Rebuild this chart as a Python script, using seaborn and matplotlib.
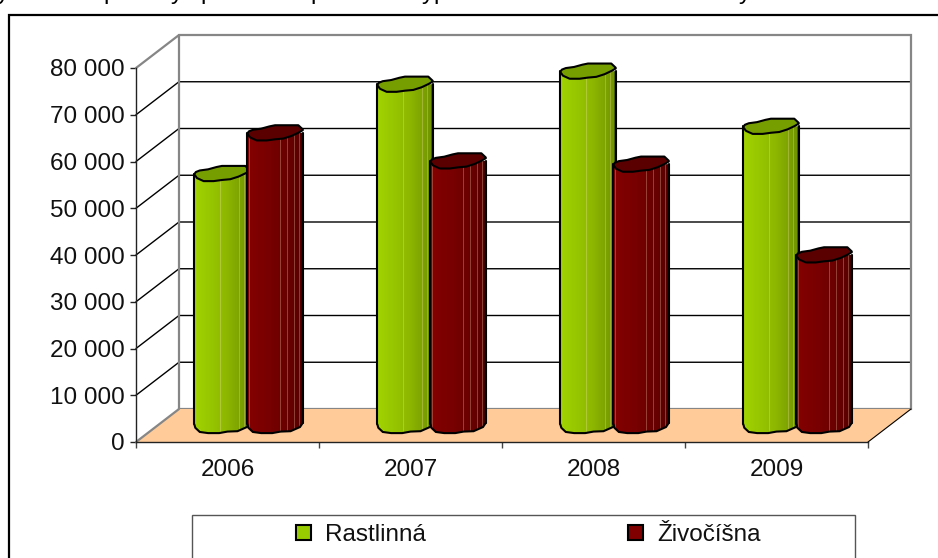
import numpy as np
import pandas as pd
import seaborn as sns
import matplotlib
matplotlib.use("Agg")
import matplotlib.pyplot as plt
from matplotlib.patches import Polygon, PathPatch, Rectangle
from matplotlib.path import Path
from matplotlib.lines import Line2D
from matplotlib.colors import to_rgb

years = ["2006", "2007", "2008", "2009"]
series_names = ["Rastlinná", "Živočíšna"]
rastlinna = [53900, 73000, 75800, 64000]
zivocisna = [62600, 56600, 55900, 36500]
y_ticks = [0, 10000, 20000, 30000, 40000, 50000, 60000, 70000, 80000]
y_labels = ["0", "10 000", "20 000", "30 000", "40 000", "50 000", "60 000", "70 000", "80 000"]
clipped_title_glyphs = [("y", 3), ("p", 110), ("y", 177), ("p", 207), ("p", 317), ("y", 428), ("p", 440), ("y", 745)]

sns.set_theme(style="white")
plt.rcParams["font.family"] = ["Liberation Sans", "DejaVu Sans"]
W, H = 938, 558
FS = 17.5
fig = plt.figure(figsize=(W / 100, H / 100), dpi=100, facecolor="white")
L, R, B, T = 136, 868, 442, 68
ax = fig.add_axes([L / W, 1 - B / H, (R - L) / W, (B - T) / H])

df = pd.DataFrame({
    "year": years * 2,
    "series": [series_names[0]] * 4 + [series_names[1]] * 4,
    "value": rastlinna + zivocisna,
})
sns.barplot(data=df, x="year", y="value", hue="series", hue_order=series_names,
            width=0.58, gap=0, legend=False, ax=ax, errorbar=None,
            palette=["#99CC00", "#800000"])
ax.set_xlim(-0.5, 3.5)
ax.set_ylim(0, 80000)
ax.set_xlabel("")
ax.set_ylabel("")

px_x = 4 / (R - L)
px_y = 80000 / (B - T)
DX, DY = 43 * px_x, 33 * px_y
x0, x1 = -0.5, 3.5

# walls and floor
ax.add_patch(Polygon([(x0 + DX, DY), (x1 + DX, DY), (x1 + DX, 80000 + DY), (x0 + DX, 80000 + DY)],
                     fc="white", ec="none", zorder=0, clip_on=False))
GRAY = "#868686"
for v in y_ticks[1:-1]:
    ax.plot([x0, x0 + DX, x1 + DX], [v, v + DY, v + DY], color="black", lw=1.0, zorder=1, clip_on=False)
ax.plot([x0, x0 + DX, x1 + DX, x1 + DX, x0 + DX, x0 + DX],
        [80000, 80000 + DY, 80000 + DY, DY, DY, 80000 + DY], color=GRAY, lw=1.6, zorder=1.5,
        clip_on=False, solid_joinstyle="miter")
ax.add_patch(Polygon([(x0, 0), (x1, 0), (x1 + DX, DY), (x0 + DX, DY)],
                     fc="#FFCC99", ec="none", zorder=2, clip_on=False))
ax.plot([x1, x1 + DX], [0, DY], color="black", lw=0.8, zorder=2.1, clip_on=False)
ax.plot([x0, x0 + DX], [0, DY], color=GRAY, lw=1.6, zorder=2.1, clip_on=False)

# cylinder outlines, normalised (u across, v in ellipse half-heights)
lid_upper = [(0, -0.1), (0.03, 0.2), (0.1, 0.4), (0.25, 0.55), (0.4, 0.85), (0.5, 1.0),
             (0.92, 1.0), (1, 0.45)]
lid_lower = [(1, 0.35), (0.93, 0.05), (0.8, -0.4), (0.65, -0.75), (0.5, -0.85), (0.35, -1.0),
             (0.17, -1.0), (0.05, -0.6)]
base_lower = [(0, 0.2), (0.02, -0.3), (0.1, -0.85), (0.25, -1.0), (0.45, -1.0), (0.6, -0.8),
              (0.78, -0.75), (0.95, -0.2), (1, 0.35)]
RY = 7.6 * px_y
BAR_PX = 55.5
stops = {
    0: [(0, "#A2D300"), (0.25, "#98C800"), (0.6, "#8DB600"), (0.85, "#7AA000"), (1, "#6E9000")],
    1: [(0, "#840000"), (0.4, "#780000"), (0.75, "#680000"), (1, "#560000")],
}
lines = {0: [0.49, 0.82, 0.92], 1: [0.05, 0.62, 0.74, 0.85, 0.95]}
lid_col = {0: "#779E00", 1: "#5A0000"}

for s, cont in enumerate(ax.containers):
    for j, bar in enumerate(cont):
        bar.set_facecolor("none")
        bar.set_edgecolor("none")
        bw = BAR_PX * px_x
        bx = bar.get_x() + bar.get_width() / 2 - bw / 2 + DX / 2 - 0.5 * px_x
        h = bar.get_height()
        base, top = DY / 2, DY / 2 + h
        z = 3 + j * 1.0 + s * 0.4
        body = [(bx, top)] + [(bx + u * bw, base + v * RY) for u, v in base_lower] + [(bx + bw, top)]
        body_closed = body + [body[0]]
        codes = [Path.MOVETO] + [Path.LINETO] * (len(body) - 1) + [Path.CLOSEPOLY]
        clip = PathPatch(Path(body_closed, codes), fc="none", ec="none", zorder=z, clip_on=False)
        ax.add_patch(clip)
        us = np.linspace(0, 1, 54)
        cols = np.array([to_rgb(c) for _, c in stops[s]])
        ps = [p for p, _ in stops[s]]
        img = np.stack([np.interp(us, ps, cols[:, k]) for k in range(3)], axis=1)
        for lu in lines[s]:
            i = int(lu * 53)
            img[i] = img[i] * 0.72 + 0.28 * np.array([1, 0.9, 0.75])
        im = ax.imshow(img[None, :, :], extent=[bx, bx + bw, base - RY, top + RY],
                       aspect="auto", zorder=z + 0.01, interpolation="nearest")
        im.set_clip_path(clip)
        ax.add_patch(PathPatch(Path(body[1:]), fc="none", ec="black", lw=1.5, zorder=z + 0.02, clip_on=False))
        for side in (0, 1):
            ax.plot([bx + side * bw] * 2, [base + (0.2 if side == 0 else 0.35) * RY, top],
                    color="black", lw=1.5, zorder=z + 0.02, clip_on=False)
        lid = [(bx + u * bw, top + v * RY) for u, v in lid_upper + lid_lower]
        ax.add_patch(Polygon(lid, closed=True, fc=lid_col[s], ec="black", lw=1.5,
                             zorder=z + 0.03, clip_on=False, joinstyle="round"))

ax.set_xlim(-0.5, 3.5)
ax.set_ylim(0, 80000)

# axes
sns.despine(ax=ax, top=True, right=True)
for side in ("left", "bottom"):
    ax.spines[side].set_color("#222222")
    ax.spines[side].set_linewidth(1.0)
    ax.spines[side].set_zorder(20)
ax.set_yticks(y_ticks, y_labels)
ax.set_xticks(np.arange(-0.5, 4.5, 1), minor=False, labels=[""] * 5)
ax.set_xticks(range(4), years, minor=True)
ax.tick_params(axis="y", which="major", left=True, length=4, width=1, color="#222222",
               labelsize=FS, pad=4, labelcolor="#111111")
ax.tick_params(axis="x", which="major", bottom=True, length=4.5, width=1, color="#444444")
ax.tick_params(axis="x", which="minor", bottom=False, length=0, labelsize=FS, pad=12.5, labelcolor="#111111")
for lab in ax.get_xticklabels(minor=True):
    lab.set_x(lab.get_position()[0])
ax.grid(False)

# outer frame, legend box
fig.add_artist(Line2D([8.5 / W, 8.5 / W, 1], [0, 1 - 14.5 / H, 1 - 14.5 / H], color="black", lw=1.6,
                      solid_joinstyle="miter"))
fig.add_artist(Rectangle((192 / W, -30 / H), 663 / W, (H + 30 - 515) / H, fc="white", ec="#555555", lw=1.0,
                         transform=fig.transFigure))
handles = [Rectangle((0, 0), 1, 1, fc=c, ec="black", lw=1.5) for c in ("#99CC00", "#800000")]
fs_px = FS * 100 / 72
fig.legend(handles, series_names, ncol=2, frameon=False, fontsize=FS, loc="center left",
           bbox_to_anchor=(296 / W, 1 - 535 / H), borderpad=0, borderaxespad=0,
           handlelength=14.5 / fs_px, handleheight=14.5 / fs_px, handletextpad=14 / fs_px,
           columnspacing=203 / fs_px, labelcolor="#111111")

# descenders of the title cropped by the picture's top edge
for ch, xp in clipped_title_glyphs:
    fig.text(xp / W, 1 + 1 / H, ch, fontsize=FS, color="black", ha="center", va="baseline")

fig.savefig("out.png", dpi=100, facecolor="white")
